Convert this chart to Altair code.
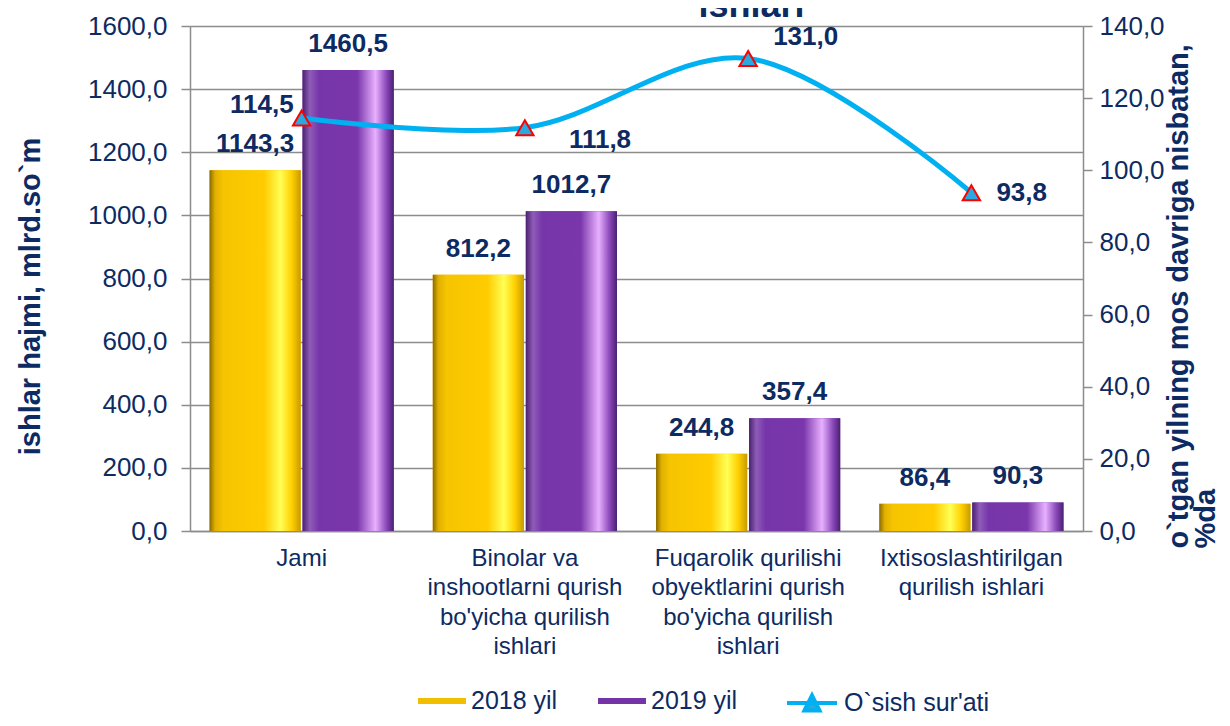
import altair as alt
import pandas as pd

categories = [
    "Jami",
    "Binolar va\ninshootlarni qurish\nbo'yicha qurilish\nishlari",
    "Fuqarolik qurilishi\nobyektlarini qurish\nbo'yicha qurilish\nishlari",
    "Ixtisoslashtirilgan\nqurilish ishlari",
]
series = ["2018 yil", "2019 yil"]
values_2018 = [1143.3, 812.2, 244.8, 86.4]
values_2019 = [1460.5, 1012.7, 357.4, 90.3]
growth = [114.5, 111.8, 131.0, 93.8]
growth_name = "O`sish sur'ati"
left_ticks = [0, 200, 400, 600, 800, 1000, 1200, 1400, 1600]
right_ticks = [0, 20, 40, 60, 80, 100, 120, 140]

NAVY = "#0d2b62"
GRID = "#8c8c8c"
FONT = "Liberation Sans, Arial, sans-serif"

bars = pd.DataFrame(
    [{"cat": c, "series": series[0], "value": v} for c, v in zip(categories, values_2018)]
    + [{"cat": c, "series": series[1], "value": v} for c, v in zip(categories, values_2019)]
)
bars["label"] = bars["value"].map(lambda v: f"{v:.1f}".replace(".", ","))
line = pd.DataFrame({"cat": categories, "growth": growth, "series": growth_name})
line["label"] = line["growth"].map(lambda v: f"{v:.1f}".replace(".", ","))

fmt = "replace(format(datum.value, '.1f'), '.', ',')"

x_enc = alt.X(
    "cat:N",
    sort=categories,
    scale=alt.Scale(paddingInner=0.175, paddingOuter=0.0875),
    axis=alt.Axis(
        title=None,
        labelExpr="split(datum.label, '\\n')",
        labelAngle=0,
        labelFont=FONT,
        labelFontSize=24,
        labelColor=NAVY,
        labelLineHeight=29.5,
        labelPadding=15,
        labelLimit=400,
        ticks=False,
        domainColor=GRID,
        domainWidth=1.5,
        labelBaseline="top",
    ),
)
xoff = alt.XOffset("series:N", sort=series, scale=alt.Scale(domain=series, paddingInner=0.02))
y_left = alt.Y(
    "value:Q",
    scale=alt.Scale(domain=[0, 1600], nice=False),
    axis=alt.Axis(
        values=left_ticks,
        labelExpr=fmt,
        title="ishlar hajmi, mlrd.so`m",
        titleFont=FONT,
        titleFontSize=29,
        titleFontWeight="bold",
        titleColor=NAVY,
        titleAngle=270,
        titleAlign="center",
        titleBaseline="middle",
        titleX=-160,
        titleY=270,
        labelFont=FONT,
        labelFontSize=26,
        labelColor=NAVY,
        labelPadding=14,
        tickSize=9,
        tickColor=GRID,
        tickWidth=1.5,
        domainColor=GRID,
        domainWidth=1.5,
        grid=True,
        gridColor=GRID,
        gridWidth=1.5,
    ),
)

legend_rect = "M-1,-0.13H1V0.13H-1Z"
bar_base = (
    alt.Chart(bars)
    .mark_bar()
    .encode(
        x=x_enc,
        xOffset=xoff,
        y=y_left,
        color=alt.Color(
            "series:N",
            scale=alt.Scale(domain=series, range=["#f2be00", "#7433a6"]),
            legend=alt.Legend(
                title=None,
                orient="none",
                legendX=228,
                legendY=651,
                direction="horizontal",
                symbolType=legend_rect,
                symbolSize=2300,
                symbolStrokeWidth=0,
                labelFont=FONT,
                labelFontSize=25,
                labelColor=NAVY,
                labelOffset=5,
                columnPadding=40,
                padding=0,
            ),
        ),
    )
)

gold_grad = alt.Gradient(
    gradient="linear", x1=0, x2=1, y1=0, y2=0,
    stops=[
        alt.GradientStop(offset=0, color="#8a6a00"),
        alt.GradientStop(offset=0.06, color="#e0b000"),
        alt.GradientStop(offset=0.15, color="#f6c400"),
        alt.GradientStop(offset=0.6, color="#ffcc00"),
        alt.GradientStop(offset=0.78, color="#ffff55"),
        alt.GradientStop(offset=0.9, color="#ffd000"),
        alt.GradientStop(offset=1, color="#c89a00"),
    ],
)
purple_grad = alt.Gradient(
    gradient="linear", x1=0, x2=1, y1=0, y2=0,
    stops=[
        alt.GradientStop(offset=0, color="#4a2070"),
        alt.GradientStop(offset=0.08, color="#8f5cb8"),
        alt.GradientStop(offset=0.18, color="#7636aa"),
        alt.GradientStop(offset=0.6, color="#7a36aa"),
        alt.GradientStop(offset=0.8, color="#e8b0ff"),
        alt.GradientStop(offset=0.92, color="#8a48ba"),
        alt.GradientStop(offset=1, color="#4a2070"),
    ],
)
gold_bars = (
    alt.Chart(bars)
    .transform_filter(alt.datum.series == series[0])
    .mark_bar(color=gold_grad)
    .encode(x=x_enc, xOffset=xoff, y=y_left)
)
purple_bars = (
    alt.Chart(bars)
    .transform_filter(alt.datum.series == series[1])
    .mark_bar(color=purple_grad)
    .encode(x=x_enc, xOffset=xoff, y=y_left)
)

bar_labels = (
    alt.Chart(bars)
    .mark_text(font=FONT, fontSize=26, fontWeight="bold", color=NAVY, baseline="middle", dy=-26)
    .encode(x=x_enc, xOffset=xoff, y=y_left, text="label:N")
)

left_layer = alt.layer(bar_base, gold_bars, purple_bars, bar_labels)

y_right_scale = alt.Scale(domain=[0, 140], nice=False)
y_right = alt.Y(
    "growth:Q",
    scale=y_right_scale,
    axis=alt.Axis(
        orient="right",
        values=right_ticks,
        labelExpr=fmt,
        title=["o`tgan yilning mos davriga nisbatan,", "%da"],
        titleFont=FONT,
        titleFontSize=29,
        titleFontWeight="bold",
        titleColor=NAVY,
        titleAngle=270,
        titleAlign="left",
        titleBaseline="top",
        titleLineHeight=27,
        titleX=81,
        titleY=522,
        labelFont=FONT,
        labelFontSize=26,
        labelColor=NAVY,
        labelPadding=7,
        tickSize=9,
        tickColor=GRID,
        tickWidth=1.5,
        domainColor=GRID,
        domainWidth=1.5,
        grid=False,
    ),
)

growth_line = (
    alt.Chart(line)
    .mark_line(interpolate="catmull-rom", strokeWidth=5)
    .encode(
        x=x_enc,
        y=y_right,
        stroke=alt.Stroke(
            "series:N",
            scale=alt.Scale(domain=[growth_name], range=["#00b0f0"]),
            legend=alt.Legend(
                title=None,
                orient="none",
                legendX=595,
                legendY=650,
                symbolType="M-1,0H1M-0.3,0.3L0,-0.3L0.3,0.3Z",
                symbolSize=2500,
                symbolStrokeWidth=4,
                symbolFillColor="#29a9e0",
                labelFont=FONT,
                labelFontSize=25,
                labelColor=NAVY,
                labelOffset=5,
                padding=0,
            ),
        ),
    )
)
growth_points = (
    alt.Chart(line)
    .mark_point(shape="triangle-up", filled=True, size=300, fill="#29a9e0", stroke="#ff0000", strokeWidth=2, opacity=1)
    .encode(x=x_enc, y=y_right)
)

label_offsets = [
    (0, "right", -8, -13),
    (1, "left", 44, 12),
    (2, "left", 25, -21),
    (3, "left", 25, 0),
]
growth_labels = []
for idx, align, dx, dy in label_offsets:
    growth_labels.append(
        alt.Chart(line)
        .transform_filter(alt.datum.cat == categories[idx])
        .mark_text(font=FONT, fontSize=26, fontWeight="bold", color=NAVY, align=align, baseline="middle", dx=dx, dy=dy)
        .encode(x=x_enc, y=y_right, text="label:N")
    )

right_layer = alt.layer(growth_line, growth_points, *growth_labels)

chart = (
    alt.layer(left_layer, right_layer)
    .resolve_scale(y="independent", color="independent", stroke="independent")
    .properties(
        width=893,
        height=505,
        title=alt.TitleParams(
            "ishlari",
            font=FONT,
            fontSize=36,
            fontWeight="bold",
            color=NAVY,
            anchor="middle",
            frame="group",
            baseline="alphabetic",
            dx=115,
            dy=40,
            offset=0,
        ),
        padding={"left": 182, "top": 18, "right": 139, "bottom": 187},
        autosize=alt.AutoSizeParams(type="none"),
    )
    .configure_view(stroke=None)
    .configure(background="white")
)

chart.save("out.html", embed_options={"renderer": "svg", "actions": False})
